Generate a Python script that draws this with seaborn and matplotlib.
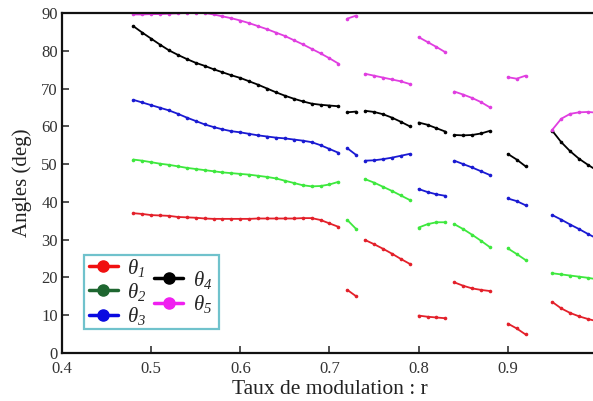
import matplotlib
matplotlib.use('Agg')
import numpy as np
import pandas as pd
import matplotlib.pyplot as plt
import seaborn as sns
from matplotlib.lines import Line2D
from matplotlib.patches import Rectangle

# r grid of each continuous branch (gaps between branches)
seg_r = [
    np.round(np.arange(0.48, 0.715, 0.01), 2),
    [0.72, 0.73],
    [0.74, 0.75, 0.76, 0.77, 0.78, 0.79],
    [0.80, 0.81, 0.82, 0.83],
    [0.84, 0.85, 0.86, 0.87, 0.88],
    [0.90, 0.91, 0.92],
    [0.95, 0.96, 0.97, 0.98, 0.99, 1.00],
]

theta1 = [
    [37.0, 36.8, 36.5, 36.4, 36.3, 36.0, 35.9, 35.8, 35.6, 35.5, 35.5, 35.5,
     35.5, 35.5, 35.6, 35.6, 35.6, 35.6, 35.6, 35.7, 35.7, 35.2, 34.3, 33.4],
    [16.7, 15.0],
    [29.9, 28.8, 27.6, 26.3, 24.9, 23.6],
    [9.9, 9.6, 9.4, 9.2],
    [18.7, 17.8, 17.1, 16.7, 16.4],
    [7.8, 6.5, 4.9],
    [13.5, 11.8, 10.6, 9.7, 9.0, 8.4],
]
theta2 = [
    [51.2, 50.9, 50.5, 50.1, 49.8, 49.4, 49.0, 48.7, 48.4, 48.1, 47.8, 47.6,
     47.4, 47.2, 46.9, 46.6, 46.2, 45.6, 45.0, 44.4, 44.1, 44.2, 44.6, 45.3],
    [35.2, 32.8],
    [46.0, 45.1, 44.0, 42.9, 41.7, 40.5],
    [33.2, 34.1, 34.6, 34.6],
    [34.1, 32.8, 31.3, 29.7, 28.0],
    [27.7, 26.2, 24.6],
    [21.1, 20.8, 20.5, 20.2, 19.9, 19.5],
]
theta3 = [
    [67.0, 66.3, 65.6, 64.9, 64.2, 63.3, 62.3, 61.4, 60.5, 59.8, 59.2, 58.7,
     58.4, 58.0, 57.6, 57.3, 57.0, 56.8, 56.5, 56.2, 55.8, 55.0, 54.0, 53.0],
    [54.2, 52.4],
    [50.9, 51.0, 51.3, 51.7, 52.2, 52.7],
    [43.4, 42.6, 42.0, 41.6],
    [50.9, 50.0, 49.1, 48.1, 47.1],
    [40.9, 40.2, 39.1],
    [36.5, 35.3, 34.0, 32.8, 31.5, 30.3],
]
theta4 = [
    [86.5, 84.8, 83.2, 81.6, 80.1, 78.9, 77.8, 76.8, 76.0, 75.1, 74.3, 73.5,
     72.8, 71.9, 71.0, 70.0, 69.0, 68.1, 67.3, 66.6, 66.0, 65.7, 65.5, 65.3],
    [63.7, 63.9],
    [64.1, 63.8, 63.2, 62.3, 61.2, 60.0],
    [61.0, 60.4, 59.5, 58.6],
    [57.7, 57.6, 57.7, 58.1, 58.8],
    [52.7, 51.2, 49.4],
    [58.8, 55.8, 53.4, 51.4, 49.8, 48.3],
]
theta5 = [
    [89.6, 89.6, 89.7, 89.7, 89.8, 89.9, 90.0, 90.0, 90.0, 89.6, 89.1, 88.6,
     88.0, 87.3, 86.5, 85.7, 84.8, 83.9, 82.8, 81.7, 80.5, 79.3, 78.0, 76.6],
    [88.5, 89.3],
    [73.9, 73.4, 72.9, 72.4, 71.9, 71.2],
    [83.6, 82.3, 81.0, 79.6],
    [69.2, 68.4, 67.5, 66.4, 65.0],
    [73.0, 72.6, 73.4],
    [59.1, 62.0, 63.3, 63.7, 63.8, 63.6],
]

names = ['t1', 't2', 't3', 't4', 't5']
labels = [r'$\theta_1$', r'$\theta_2$', r'$\theta_3$', r'$\theta_4$', r'$\theta_5$']
line_colors = ['#e3202a', '#3ee83e', '#1a1ad2', '#000000', '#e03ee0']
legend_colors = ['#f01010', '#1e6630', '#0a0ae0', '#000000', '#f020f0']

rows = []
for name, series in zip(names, [theta1, theta2, theta3, theta4, theta5]):
    for k, (rr, vals) in enumerate(zip(seg_r, series)):
        for r, v in zip(rr, vals):
            rows.append((name, k, float(r), v))
df = pd.DataFrame(rows, columns=['theta', 'seg', 'r', 'angle'])

sns.set_style('ticks')
plt.rcParams['font.family'] = ['Liberation Serif', 'DejaVu Serif']
# italic theta and italic subscript digits, like the original
plt.rcParams['mathtext.fontset'] = 'custom'
plt.rcParams['mathtext.rm'] = 'Liberation Serif:italic'
plt.rcParams['mathtext.it'] = 'Liberation Serif:italic'
plt.rcParams['xtick.direction'] = 'in'
plt.rcParams['ytick.direction'] = 'in'

fig = plt.figure(figsize=(5.93, 4.01), dpi=100)
ax = fig.add_axes([0.1046, 0.1197, 0.902, 0.848])

sns.lineplot(data=df, x='r', y='angle', hue='theta', units='seg', estimator=None,
             palette=dict(zip(names, line_colors)), marker='o', markersize=2.6,
             markeredgewidth=0, linewidth=1.3, legend=False, ax=ax)

ax.set_xlim(0.4, 1.0)
ax.set_ylim(0, 90)
ax.set_xticks([0.4, 0.5, 0.6, 0.7, 0.8, 0.9, 1.0])
ax.set_xticklabels(['0.4', '0.5', '0.6', '0.7', '0.8', '0.9', ''])
ax.set_yticks(range(0, 91, 10))
ax.tick_params(labelsize=12, length=5, width=1.2, colors='#333333', labelcolor='#333333')
ax.tick_params(axis='x', pad=6)
ax.tick_params(axis='y', pad=3)
for s in ['left', 'bottom', 'top']:
    ax.spines[s].set_linewidth(1.6)
    ax.spines[s].set_color('#111111')
ax.spines['right'].set_visible(False)
ax.set_xlabel('Taux de modulation : r', fontsize=15.5, color='#222222', labelpad=2)
ax.set_ylabel('Angles (deg)', fontsize=15, color='#222222', labelpad=7)

# legend: frame box + two frameless columns (second column sits half a row lower)
handles = [Line2D([], [], color=c, marker='o', markersize=8, linewidth=2.5)
           for c in legend_colors]
ax.add_patch(Rectangle((0.041, 0.07), 0.252, 0.218, transform=ax.transAxes,
                       facecolor='white', edgecolor='#70c2cc', linewidth=1.6, zorder=4))
leg_kw = dict(frameon=False, borderaxespad=0, borderpad=0, fontsize=15,
              handlelength=1.4, handletextpad=0.45, labelspacing=0.1)
leg1 = ax.legend(handles[:3], labels[:3], loc='center left',
                 bbox_to_anchor=(0.05, 0.18), **leg_kw)
ax.add_artist(leg1)
ax.legend(handles[3:], labels[3:], loc='center left',
          bbox_to_anchor=(0.172, 0.18), **leg_kw)

fig.savefig('out.png', dpi=100)
